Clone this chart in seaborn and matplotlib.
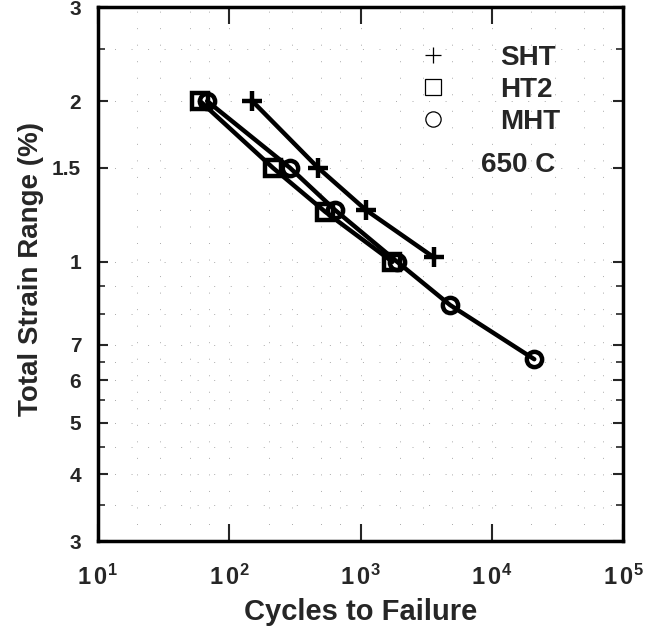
import matplotlib
matplotlib.use("Agg")
import matplotlib.pyplot as plt
import seaborn as sns
import pandas as pd
from matplotlib.lines import Line2D
from matplotlib.ticker import FixedLocator, FixedFormatter, NullFormatter

sns.set_style("white")
plt.rcParams['font.family'] = ['Liberation Sans', 'DejaVu Sans']
plt.rcParams['mathtext.fontset'] = 'custom'
plt.rcParams['mathtext.rm'] = 'Liberation Sans:bold'
plt.rcParams['mathtext.bf'] = 'Liberation Sans:bold'

# Data
sht_cycles = [150, 475, 1100, 3600]
sht_strain = [2.0, 1.5, 1.25, 1.02]
ht2_cycles = [60, 215, 540, 1750]
ht2_strain = [2.0, 1.5, 1.24, 1.0]
mht_cycles = [68, 290, 640, 1900, 4800, 21000]
mht_strain = [2.0, 1.5, 1.25, 1.0, 0.83, 0.657]

series_names = ["SHT", "HT2", "MHT"]
series_markers = ["+", "s", "o"]

y_tick_values = [0.3, 0.4, 0.5, 0.6, 0.7, 1.0, 1.5, 2.0, 3.0]
y_tick_labels = ["3", "4", "5", "6", "7", "1", "1.5", "2", "3"]
y_minor_values = [0.35, 0.45, 0.55, 0.65, 0.8, 0.9, 2.5]
x_tick_values = [1e1, 1e2, 1e3, 1e4, 1e5]
x_tick_labels = [r"$\mathbf{1\,0^{1}}$", r"$\mathbf{1\,0^{2}}$", r"$\mathbf{1\,0^{3}}$",
                 r"$\mathbf{1\,0^{4}}$", r"$\mathbf{1\,0^{5}}$"]

fig = plt.figure(figsize=(6.52, 6.41), dpi=100)
ax = fig.add_axes([0.150, 0.156, 0.806, 0.833])

data = [(sht_cycles, sht_strain), (ht2_cycles, ht2_strain), (mht_cycles, mht_strain)]
for (xs, ys), name, mk in zip(data, series_names, series_markers):
    df = pd.DataFrame({"cycles": xs, "strain": ys})
    sns.lineplot(data=df, x="cycles", y="strain", ax=ax, color="black", lw=3.2,
                 marker=mk, markersize=11 if mk != "+" else 14,
                 markerfacecolor="none", markeredgecolor="black",
                 markeredgewidth=3.2, legend=False, sort=False, estimator=None)

ax.set_xscale("log")
ax.set_yscale("log")
ax.set_xlim(1e1, 1e5)
ax.set_ylim(0.3, 3.0)

ax.xaxis.set_major_locator(FixedLocator(x_tick_values))
ax.xaxis.set_major_formatter(FixedFormatter(x_tick_labels))
ax.xaxis.set_minor_locator(FixedLocator([]))
ax.yaxis.set_major_locator(FixedLocator(y_tick_values))
ax.yaxis.set_major_formatter(FixedFormatter(y_tick_labels))
ax.yaxis.set_minor_locator(FixedLocator(y_minor_values))
ax.yaxis.set_minor_formatter(NullFormatter())

ax.tick_params(axis="x", which="major", direction="in", length=12, width=1.5,
               top=True, bottom=True, labelsize=17, pad=17)
ax.tick_params(axis="y", which="major", direction="in", length=7, width=1.5,
               left=True, right=True, labelsize=15, pad=12)
ax.tick_params(axis="y", which="minor", direction="in", length=5, width=1.2,
               left=True, right=True)
for lab in ax.get_yticklabels():
    lab.set_fontweight("bold")

for sp in ax.spines.values():
    sp.set_linewidth(2.5)
    sp.set_color("black")

# faint dotted grid
grid_x = [20, 30, 50, 70, 100, 200, 300, 500, 700, 1000, 2000, 3000, 5000, 7000,
          10000, 20000, 30000, 50000, 70000]
for gx in grid_x:
    ax.axvline(gx, color="#aaaaaa", lw=0.7, ls=(0, (1, 16)), zorder=0)
for gy in y_tick_values[1:-1] + y_minor_values:
    ax.axhline(gy, color="#aaaaaa", lw=0.7, ls=(0, (1, 16)), zorder=0)

ax.set_xlabel("Cycles to Failure", fontsize=21, fontweight="bold", labelpad=6)
ax.set_ylabel("Total Strain Range (%)", fontsize=20, fontweight="bold", labelpad=7)
ax.yaxis.set_label_coords(-0.103, 0.51)

handles = [Line2D([], [], ls="none", marker=m, color="black", markerfacecolor="none",
                  markersize=11, markeredgewidth=0.9) for m in series_markers]
leg = ax.legend(handles, series_names, loc="upper left", bbox_to_anchor=(0.538, 0.976),
                frameon=False, handletextpad=1.4, labelspacing=0.22,
                prop={"size": 20, "weight": "bold"})
ax.text(0.870, 0.705, "650 C", transform=ax.transAxes, ha="right", va="center",
        fontsize=20, fontweight="bold")

fig.savefig("out.png", dpi=100)
